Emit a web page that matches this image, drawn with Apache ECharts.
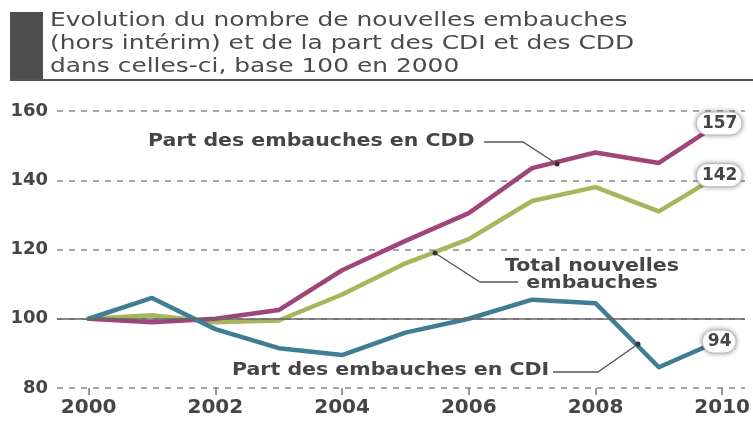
<!DOCTYPE html>
<html>
<head>
<meta charset="utf-8">
<script src="https://cdn.jsdelivr.net/npm/echarts@6/dist/echarts.min.js"></script>
<style>
html, body { margin: 0; padding: 0; background: #fff; }
#chart { width: 753px; height: 421px; }
</style>
</head>
<body>
<div id="chart"></div>
<script>
// donnees (base 100 en 2000)
const years = [2000, 2001, 2002, 2003, 2004, 2005, 2006, 2007, 2008, 2009, 2010];
const partCDD = [100, 99, 100, 102.5, 114, 122.5, 130.5, 143.5, 148, 145, 157];
const totalEmbauches = [100, 101, 99, 99.5, 107, 116, 123, 134, 138, 131, 142];
const partCDI = [100, 106, 97, 91.5, 89.5, 96, 100, 105.5, 104.5, 86, 94];
const tickYears = [2000, 2002, 2004, 2006, 2008, 2010];
const titleLines = [
	"Evolution du nombre de nouvelles embauches",
	"(hors intérim) et de la part des CDI et des CDD",
	"dans celles-ci, base 100 en 2000"
];

const FONT = "DejaVu Sans";
const TXT = "#454545";

// derniere valeur avec sa bulle
const toPoints = (vals) =>
	vals.map((v, i) => {
		if (i < vals.length - 1) return [years[i], v];
		return {
			value: [years[i], v],
			symbol: "circle",
			symbolSize: 2,
			label: {
				show: true,
				position: "inside",
				offset: [-3, 2],
				formatter: (p) => p.value[1],
				backgroundColor: "#fff",
				borderColor: "#d8d8d8",
				borderWidth: 1,
				borderRadius: 12,
				padding: [3, 4, 2, 5],
				shadowBlur: 5,
				shadowColor: "rgba(0,0,0,0.35)",
				fontFamily: FONT,
				fontSize: 17,
				fontWeight: "bold",
				color: TXT
			}
		};
	});

const lineSerie = (name, vals, color) => ({
	name: name,
	type: "line",
	data: toPoints(vals),
	symbol: "none",
	smooth: false,
	z: 3,
	lineStyle: { color: color, width: 4.5, cap: "round", join: "round" },
	itemStyle: { color: color },
	emphasis: { disabled: true }
});

// textes d'annotation (un peu elargis comme sur l'original)
const annot = (text, x, y, align) => ({
	type: "text",
	x: x,
	y: y,
	scaleX: 1.14,
	style: {
		text: text,
		x: 0,
		y: 0,
		font: "bold 18px '" + FONT + "'",
		fill: TXT,
		align: align || "left",
		verticalAlign: "middle"
	}
});
const leader = (pts) => ({
	type: "polyline",
	shape: { points: pts },
	style: { stroke: "#555", lineWidth: 1.3, fill: null }
});
const dot = (x, y) => ({
	type: "circle",
	shape: { cx: x, cy: y, r: 2.5 },
	style: { fill: "#333" },
	z: 10
});

const chart = echarts.init(document.getElementById("chart"));
chart.setOption({
	animation: false,
	backgroundColor: "#fff",
	grid: { left: 57, right: 3, top: 111, bottom: 33 },
	xAxis: {
		type: "value",
		min: 1999.5,
		max: 2010.36,
		axisLine: { show: false },
		splitLine: { show: false },
		axisTick: {
			show: true,
			customValues: tickYears,
			length: 7,
			lineStyle: { color: "#777", width: 1.5 }
		},
		axisLabel: {
			customValues: tickYears,
			formatter: (v) => String(v),
			fontFamily: FONT,
			fontSize: 20,
			fontWeight: "bold",
			color: TXT,
			margin: 10
		}
	},
	yAxis: {
		type: "value",
		min: 80,
		max: 160,
		interval: 20,
		axisLine: { show: false },
		axisTick: { show: false },
		axisLabel: {
			fontFamily: FONT,
			fontSize: 18,
			fontWeight: "bold",
			color: TXT,
			margin: 9
		},
		splitLine: {
			lineStyle: { type: [6, 6], color: "#8a8a8a", width: 1.5 }
		}
	},
	series: [
		{
			// ligne de base 100
			type: "line",
			data: [],
			z: 1,
			markLine: {
				silent: true,
				symbol: "none",
				label: { show: false },
				lineStyle: { type: "solid", color: "#666", width: 1.5 },
				data: [{ yAxis: 100 }]
			}
		},
		lineSerie("Total nouvelles embauches", totalEmbauches, "#a7b55c"),
		lineSerie("Part des embauches en CDD", partCDD, "#a0457a"),
		lineSerie("Part des embauches en CDI", partCDI, "#3f7d95")
	],
	graphic: [
		{ type: "rect", shape: { x: 10, y: 12, width: 33, height: 68 }, style: { fill: "#4f4f4f" } },
		{ type: "line", shape: { x1: 10, y1: 80, x2: 753, y2: 80 }, style: { stroke: "#555", lineWidth: 2 } },
		{
			type: "text",
			x: 50,
			y: 10,
			scaleX: 1.31,
			style: {
				text: titleLines.join("\n"),
				x: 0,
				y: 0,
				font: "19px '" + FONT + "'",
				lineHeight: 23,
				fill: "#4a4a4a"
			}
		},
		annot("Part des embauches en CDD", 148, 141),
		leader([[484, 142], [523, 142], [557, 164]]),
		dot(557, 164),
		annot("Total nouvelles", 592, 266, "center"),
		annot("embauches", 592, 283, "center"),
		leader([[435, 253], [480, 282], [518, 282]]),
		dot(435, 253),
		annot("Part des embauches en CDI", 232, 370),
		leader([[553, 372], [598, 372], [638, 344]]),
		dot(638, 344)
	]
});
</script>
</body>
</html>
